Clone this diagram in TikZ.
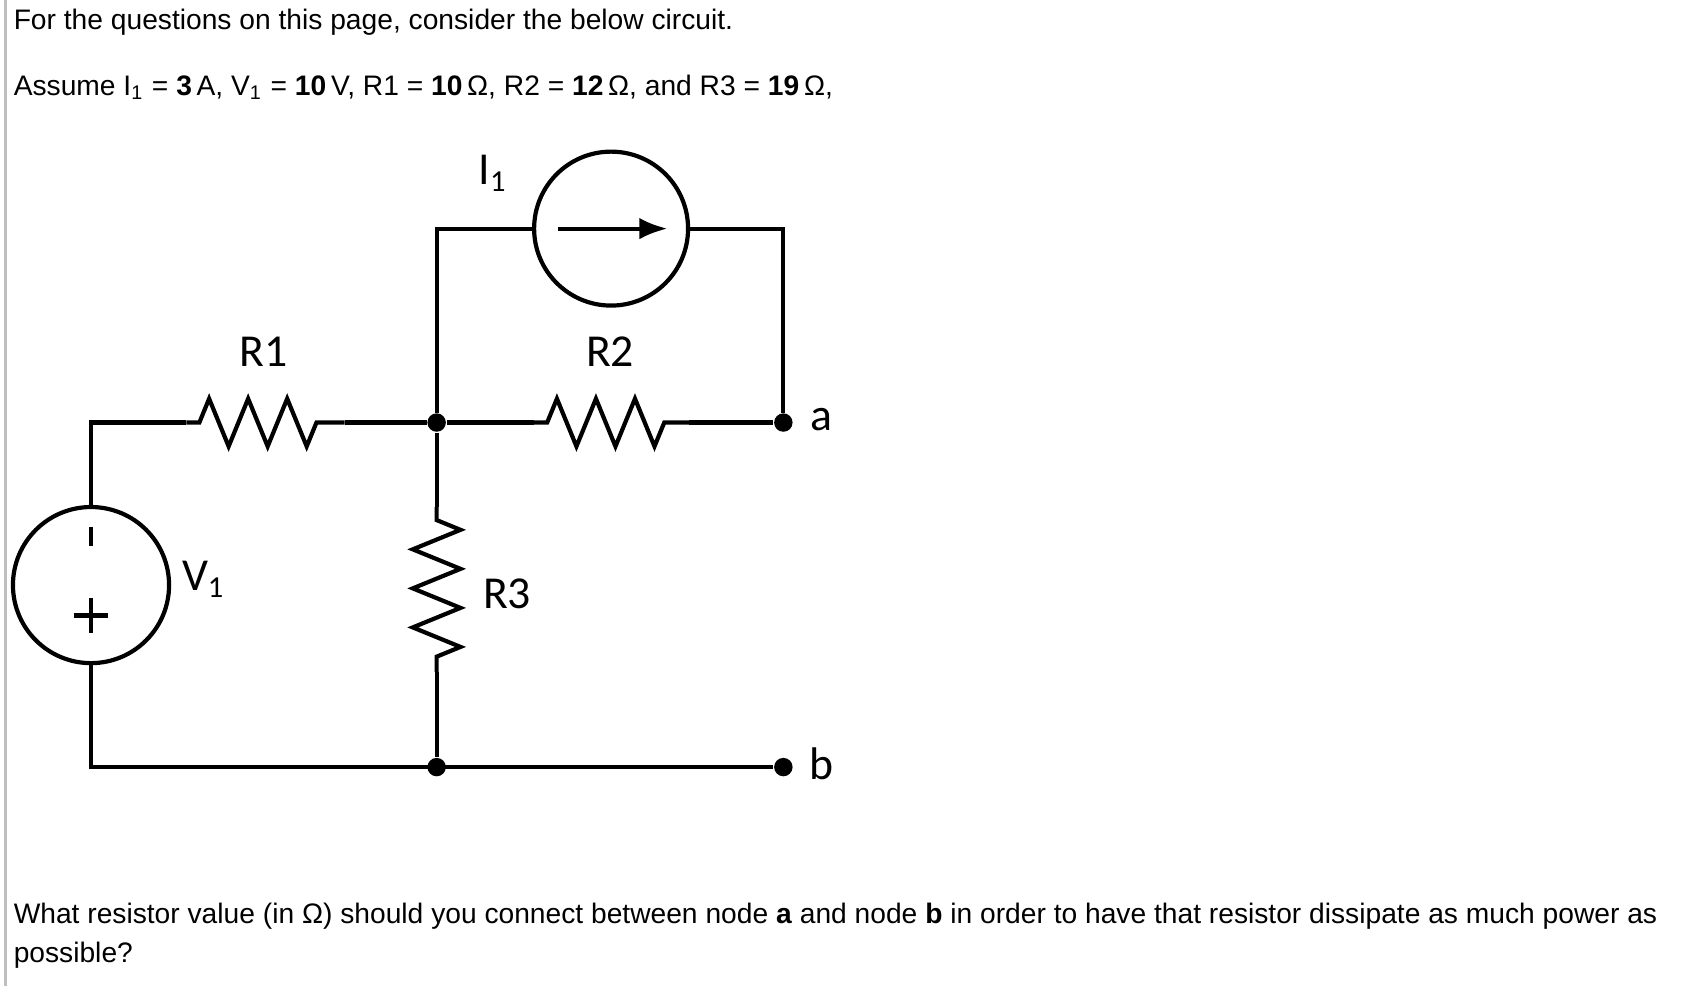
\documentclass[tikz,border=0pt]{standalone}
\usepackage{fontspec}
\setmainfont{Liberation Sans}
\newfontfamily\lblfont{Carlito}
\usetikzlibrary{decorations.pathmorphing,arrows.meta}
\tikzset{
  wire/.style={line width=1.1pt},
  res/.style={wire, decorate, decoration={zigzag, amplitude=0.22cm, segment length=0.36cm, pre length=0.12cm, post length=0.12cm}},
  dot/.style={circle, fill, inner sep=0pt, minimum size=0.17cm},
  lbl/.style={font=\lblfont\fontsize{12}{14}\selectfont},
  txt/.style={anchor=base west, inner sep=0pt, font=\fontsize{7.4}{8}\selectfont}
}
\begin{document}
\begin{tikzpicture}[x=0.01cm, y=-0.01cm]
\useasboundingbox (0,0) rectangle (1569,910);
\draw[gray!50, line width=0.6pt] (5,0) -- (5,910);

% Text
\node[txt] (t1) at (12,27) {For the questions on this page, consider the below circuit.};
\node[txt] (t2) at (12,88) {Assume I\textsubscript{1} = \textbf{3}\,A, V\textsubscript{1} = \textbf{10}\,V, R1 = \textbf{10}\,Ω, R2 = \textbf{12}\,Ω, and R3 = \textbf{19}\,Ω,};
\node[txt] (t3) at (12,852) {What resistor value (in Ω) should you connect between node \textbf{a} and node \textbf{b} in order to have that resistor dissipate as much power as};
\node[txt] (t4) at (12,888) {possible?};

% Circuit points
\coordinate (tl) at (403,211);
\coordinate (tr) at (723,211);
\coordinate (ml) at (84,390);
\coordinate (r1s) at (172,390);
\coordinate (r1e) at (318,390);
\coordinate (r2s) at (493,390);
\coordinate (r2e) at (636,390);
\coordinate (r3s) at (403,468);
\coordinate (r3e) at (403,620);
\coordinate (bl) at (84,708);
\node[dot] (n) at (403,390) {};
\node[dot] (a) at (723,390) {};
\node[dot] (nb) at (403,708) {};
\node[dot] (b) at (723,708) {};
\node[circle, draw, wire, minimum size=1.42cm, inner sep=0pt] (I) at (564,211) {};
\node[circle, draw, wire, minimum size=1.44cm, inner sep=0pt] (V) at (84,540) {};

% Wires
\draw[wire] (n) |- (tl) -- (I.west);
\draw[wire] (I.east) -- (tr) -- (a);
\draw[wire] (V.north) -- (ml) -- (r1s);
\draw[res] (r1s) -- (r1e);
\draw[wire] (r1e) -- (n) -- (r2s);
\draw[res] (r2s) -- (r2e);
\draw[wire] (r2e) -- (a);
\draw[wire] (n) -- (r3s);
\draw[res] (r3s) -- (r3e);
\draw[wire] (r3e) -- (nb);
\draw[wire] (V.south) -- (bl) -- (b);

% Source symbols
\draw[wire, -{Latex[length=0.26cm, width=0.2cm]}] ([xshift=-0.49cm]I.center) -- ([xshift=0.52cm]I.center);
\draw[wire] (84,486) -- (84,504);
\draw[wire] (68,568) -- (100,568) (84,552) -- (84,584);

% Labels
\node[lbl] at (455,160) {I\textsubscript{1}};
\node[lbl] at (243,325) {R1};
\node[lbl] at (563,325) {R2};
\node[lbl] at (758,387) {a};
\node[lbl] at (188,535) {V\textsubscript{1}};
\node[lbl] at (468,548) {R3};
\node[lbl] at (758,705) {b};
\end{tikzpicture}
\end{document}
